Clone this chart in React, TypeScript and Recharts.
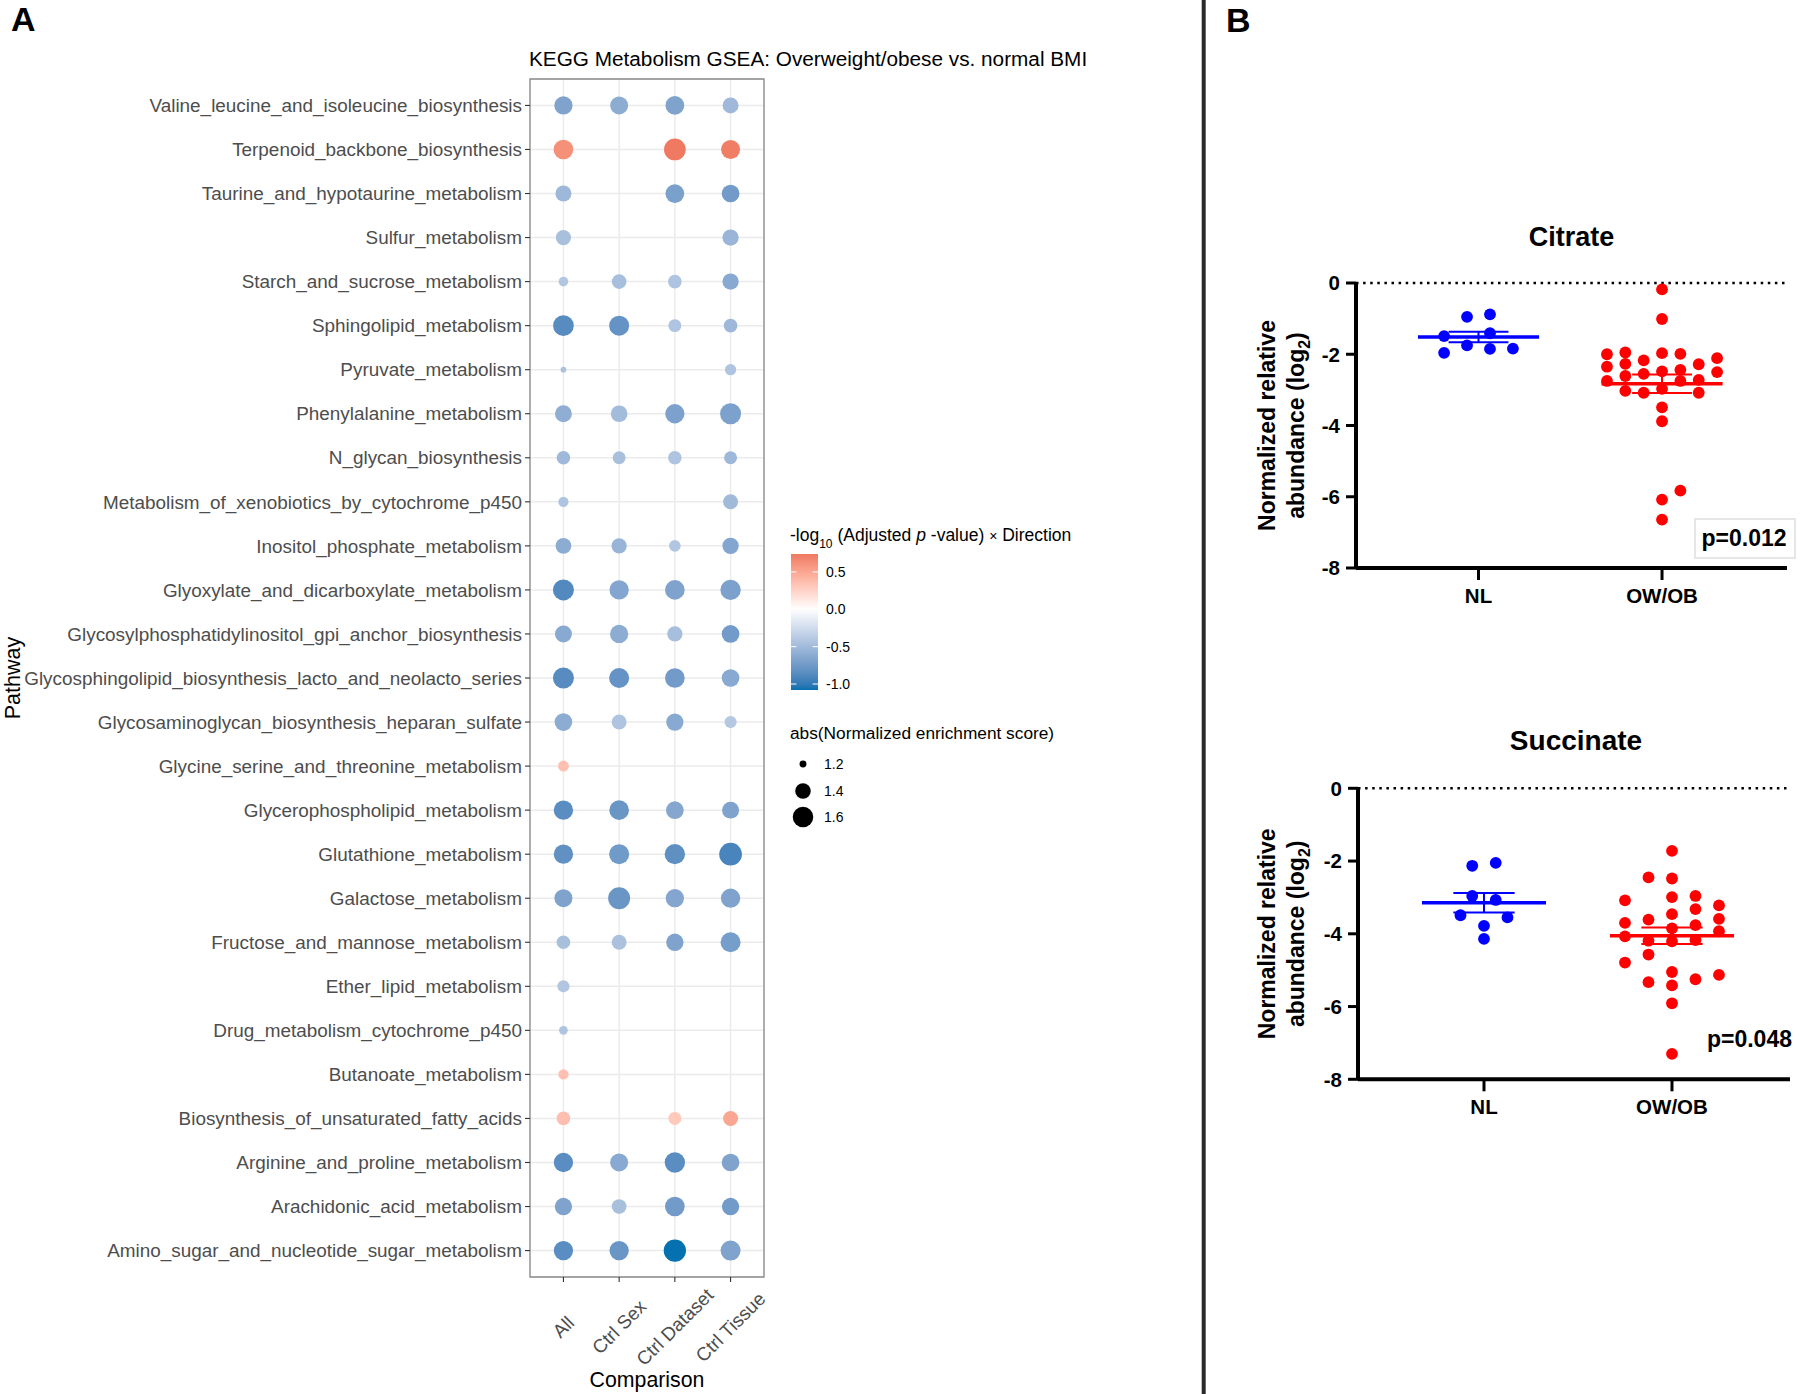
import React from 'react';
import {
  ScatterChart,
  Scatter,
  XAxis,
  YAxis,
  CartesianGrid,
  ReferenceArea,
  ReferenceLine,
} from 'recharts';

const FONT = '"Liberation Sans", Arial, Helvetica, sans-serif';

// ---------------- Panel A data ----------------
const PATHWAYS = [
  'Valine_leucine_and_isoleucine_biosynthesis',
  'Terpenoid_backbone_biosynthesis',
  'Taurine_and_hypotaurine_metabolism',
  'Sulfur_metabolism',
  'Starch_and_sucrose_metabolism',
  'Sphingolipid_metabolism',
  'Pyruvate_metabolism',
  'Phenylalanine_metabolism',
  'N_glycan_biosynthesis',
  'Metabolism_of_xenobiotics_by_cytochrome_p450',
  'Inositol_phosphate_metabolism',
  'Glyoxylate_and_dicarboxylate_metabolism',
  'Glycosylphosphatidylinositol_gpi_anchor_biosynthesis',
  'Glycosphingolipid_biosynthesis_lacto_and_neolacto_series',
  'Glycosaminoglycan_biosynthesis_heparan_sulfate',
  'Glycine_serine_and_threonine_metabolism',
  'Glycerophospholipid_metabolism',
  'Glutathione_metabolism',
  'Galactose_metabolism',
  'Fructose_and_mannose_metabolism',
  'Ether_lipid_metabolism',
  'Drug_metabolism_cytochrome_p450',
  'Butanoate_metabolism',
  'Biosynthesis_of_unsaturated_fatty_acids',
  'Arginine_and_proline_metabolism',
  'Arachidonic_acid_metabolism',
  'Amino_sugar_and_nucleotide_sugar_metabolism',
];

const COMPARISONS = ['All', 'Ctrl Sex', 'Ctrl Dataset', 'Ctrl Tissue'];

// abs(Normalized enrichment score)
const NES_ALL = [1.50, 1.56, 1.415, 1.39, 1.244, 1.607, 1.187, 1.45, 1.34, 1.256, 1.405, 1.62, 1.45, 1.62, 1.478, 1.27, 1.544, 1.544, 1.49, 1.34, 1.30, 1.226, 1.256, 1.34, 1.544, 1.463, 1.544];
const NES_SEX = [1.49, null, null, null, 1.372, 1.575, null, 1.44, 1.32, null, 1.39, 1.544, 1.50, 1.575, 1.38, null, 1.56, 1.575, 1.67, 1.38, null, null, null, null, 1.49, 1.372, 1.544];
const NES_DATASET = [1.52, 1.655, 1.52, null, 1.34, 1.32, null, 1.544, 1.34, null, 1.288, 1.56, 1.39, 1.56, 1.463, null, 1.478, 1.59, 1.50, 1.463, null, null, null, 1.32, 1.59, 1.56, 1.685];
const NES_TISSUE = [1.415, 1.53, 1.478, 1.426, 1.426, 1.34, 1.278, 1.62, 1.32, 1.38, 1.426, 1.59, 1.478, 1.478, 1.30, null, 1.45, 1.706, 1.544, 1.575, null, null, null, 1.38, 1.478, 1.463, 1.575];

// -log10(adjusted p) x direction
const SIG_ALL = [-0.68, 0.62, -0.52, -0.46, -0.41, -0.86, -0.45, -0.59, -0.51, -0.43, -0.61, -0.88, -0.63, -0.86, -0.61, 0.35, -0.85, -0.82, -0.68, -0.46, -0.41, -0.43, 0.35, 0.36, -0.85, -0.68, -0.85];
const SIG_SEX = [-0.61, null, null, null, -0.47, -0.80, null, -0.49, -0.46, null, -0.55, -0.66, -0.61, -0.80, -0.43, null, -0.78, -0.75, -0.78, -0.45, null, null, null, null, -0.63, -0.46, -0.78];
const SIG_DATASET = [-0.68, 0.74, -0.70, null, -0.43, -0.43, null, -0.69, -0.43, null, -0.41, -0.68, -0.47, -0.74, -0.63, null, -0.65, -0.83, -0.66, -0.68, null, null, null, 0.30, -0.85, -0.74, -1.08];
const SIG_TISSUE = [-0.51, 0.72, -0.74, -0.54, -0.63, -0.52, -0.43, -0.69, -0.52, -0.50, -0.66, -0.69, -0.74, -0.63, -0.40, null, -0.68, -0.92, -0.68, -0.72, null, null, null, 0.50, -0.68, -0.74, -0.68];

const COLOR_TICKS = [0.5, 0.0, -0.5, -1.0];
const SIZE_TICKS = [1.2, 1.4, 1.6];

// ---------------- Panel B data ----------------
const GROUPS = ['NL', 'OW/OB'];
const CITRATE_NL = [-0.95, -0.88, -1.49, -1.41, -1.75, -1.96, -1.85, -1.84];
const CITRATE_NL_SWARM = [-0.0625, 0.0625, -0.1875, 0.0625, -0.0625, -0.1875, 0.0625, 0.1875];
const CITRATE_OB = [-0.18, -1.01, -2.00, -1.95, -2.17, -1.97, -1.99, -2.11, -2.35, -2.27, -2.28, -2.44, -2.48, -2.55, -2.50, -2.61, -2.75, -2.75, -2.72, -2.97, -3.03, -3.08, -3.08, -3.49, -3.88, -5.83, -6.08, -6.64];
const CITRATE_OB_SWARM = [0, 0, -0.3, -0.2, -0.1, 0, 0.1, 0.3, -0.3, -0.2, 0.2, 0.1, 0, -0.1, 0.3, -0.2, -0.3, 0.1, 0.2, 0, -0.2, -0.1, 0.2, 0, 0, 0.1, 0, 0];
const SUCCINATE_NL = [-2.13, -2.05, -2.96, -3.07, -3.49, -3.55, -3.78, -4.14];
const SUCCINATE_NL_SWARM = [-0.0625, 0.0625, -0.0625, 0.0625, -0.125, 0.125, 0, 0];
const SUCCINATE_OB = [-1.72, -2.45, -2.48, -3.08, -2.99, -2.96, -3.22, -3.32, -3.46, -3.61, -3.59, -3.70, -3.76, -3.85, -3.93, -4.07, -4.19, -4.21, -4.17, -4.57, -4.79, -5.05, -5.13, -5.25, -5.33, -5.42, -5.91, -7.30];
const SUCCINATE_OB_SWARM = [0, -0.125, 0, -0.25, 0, 0.125, 0.25, 0.125, 0, -0.125, 0.25, -0.25, 0.125, 0, 0.25, -0.25, -0.125, 0, 0.125, -0.125, -0.25, 0, 0.25, 0.125, -0.125, 0, 0, 0];
const Y_TICKS_B = [-8, -6, -4, -2, 0];

// ---------------- colour helpers (Lab interpolation like ggplot) ----------------
const WHITE_PT = [0.95047, 1.0, 1.08883];
const s2l = (c: number) => {
  const v = c / 255;
  return v <= 0.04045 ? v / 12.92 : Math.pow((v + 0.055) / 1.055, 2.4);
};
const l2s = (c: number) => {
  const v = c <= 0.0031308 ? 12.92 * c : 1.055 * Math.pow(c, 1 / 2.4) - 0.055;
  return Math.round(Math.max(0, Math.min(1, v)) * 255);
};
function toLab(hex: string) {
  const r = s2l(parseInt(hex.slice(1, 3), 16));
  const g = s2l(parseInt(hex.slice(3, 5), 16));
  const b = s2l(parseInt(hex.slice(5, 7), 16));
  const X = 0.4124564 * r + 0.3575761 * g + 0.1804375 * b;
  const Y = 0.2126729 * r + 0.7151522 * g + 0.072175 * b;
  const Z = 0.0193339 * r + 0.119192 * g + 0.9503041 * b;
  const f = (t: number) => (t > 216 / 24389 ? Math.cbrt(t) : ((24389 / 27) * t + 16) / 116);
  const fx = f(X / WHITE_PT[0]);
  const fy = f(Y / WHITE_PT[1]);
  const fz = f(Z / WHITE_PT[2]);
  return [116 * fy - 16, 500 * (fx - fy), 200 * (fy - fz)];
}
function fromLab(lab: number[]) {
  const [L, a, bb] = lab;
  const fy = (L + 16) / 116;
  const fx = fy + a / 500;
  const fz = fy - bb / 200;
  const finv = (t: number) => (t * t * t > 216 / 24389 ? t * t * t : (116 * t - 16) / (24389 / 27));
  const X = finv(fx) * WHITE_PT[0];
  const Y = finv(fy) * WHITE_PT[1];
  const Z = finv(fz) * WHITE_PT[2];
  const r = 3.2404542 * X - 1.5371385 * Y - 0.4985314 * Z;
  const g = -0.969266 * X + 1.8760108 * Y + 0.041556 * Z;
  const b = 0.0556434 * X - 0.2040259 * Y + 1.0572252 * Z;
  const h = (n: number) => l2s(n).toString(16).padStart(2, '0');
  return '#' + h(r) + h(g) + h(b);
}
const LOW = toLab('#0571B0');
const MID = toLab('#FFFFFF');
const HIGH = toLab('#D7301F');

const ALL_SIG = [...SIG_ALL, ...SIG_SEX, ...SIG_DATASET, ...SIG_TISSUE].filter((v) => v != null) as number[];
const SIG_MIN = Math.min(...ALL_SIG);
const SIG_MAX = Math.max(...ALL_SIG);
const SIG_LIM = Math.max(Math.abs(SIG_MIN), Math.abs(SIG_MAX));

function colorFor(v: number) {
  const t = Math.max(-1, Math.min(1, v / SIG_LIM));
  const end = t < 0 ? LOW : HIGH;
  const k = Math.abs(t);
  return fromLab([0, 1, 2].map((i) => MID[i] + (end[i] - MID[i]) * k));
}
function radiusFor(nes: number) {
  return 1 + 10 * Math.sqrt(Math.max(0, nes - 1.17) / 0.5);
}

const NES_BY_COMP = [NES_ALL, NES_SEX, NES_DATASET, NES_TISSUE];
const SIG_BY_COMP = [SIG_ALL, SIG_SEX, SIG_DATASET, SIG_TISSUE];
const bubbleSeries = COMPARISONS.map((comp, ci) =>
  PATHWAYS.map((p, pi) => ({
    x: ci,
    y: pi,
    nes: NES_BY_COMP[ci][pi],
    sig: SIG_BY_COMP[ci][pi],
    pathway: p,
    comparison: comp,
  })).filter((d) => d.nes != null && d.sig != null)
);

const Bubble = (props: any) => {
  const { cx, cy, payload } = props;
  if (cx == null || cy == null) return null;
  return <circle cx={cx} cy={cy} r={radiusFor(payload.nes)} fill={colorFor(payload.sig)} />;
};

const CompTick = (props: any) => {
  const { x, y, payload } = props;
  const cy = y + 43;
  return (
    <text
      x={x}
      y={cy}
      textAnchor="middle"
      dominantBaseline="central"
      transform={`rotate(-45 ${x} ${cy})`}
      fill="#4D4D4D"
      fontSize={18.9}
      fontFamily={FONT}
    >
      {COMPARISONS[payload.value]}
    </text>
  );
};

function PanelA() {
  const n = PATHWAYS.length;
  return (
    <div style={{ position: 'absolute', left: 0, top: 0 }}>
      <ScatterChart width={1195} height={1394} margin={{ top: 79, right: 431, bottom: 17, left: 5 }}>
        <CartesianGrid stroke="#EBEBEB" strokeWidth={1.5} />
        <XAxis
          type="number"
          dataKey="x"
          domain={[-0.6, COMPARISONS.length - 0.4]}
          allowDataOverflow
          ticks={COMPARISONS.map((_, i) => i)}
          interval={0}
          height={100}
          axisLine={false}
          tickLine={{ stroke: '#333333', strokeWidth: 1.1 }}
          tickSize={5}
          tickMargin={2}
          tick={<CompTick />}
        />
        <YAxis
          type="number"
          dataKey="y"
          domain={[-0.6, n - 0.4]}
          allowDataOverflow
          reversed
          ticks={PATHWAYS.map((_, i) => i)}
          interval={0}
          width={525}
          axisLine={false}
          tickLine={{ stroke: '#333333', strokeWidth: 1.1 }}
          tickSize={5}
          tickMargin={3}
          tickFormatter={(v: number) => PATHWAYS[v]}
          tick={{ fill: '#4D4D4D', fontSize: 18.9, fontFamily: FONT }}
        />
        <ReferenceArea
          x1={-0.6}
          x2={COMPARISONS.length - 0.4}
          y1={-0.6}
          y2={n - 0.4}
          fill="none"
          fillOpacity={0}
          stroke="#8A8A8A"
          strokeWidth={1.3}
        />
        {bubbleSeries.map((data, i) => (
          <Scatter key={COMPARISONS[i]} name={COMPARISONS[i]} data={data} shape={Bubble} isAnimationActive={false} />
        ))}
      </ScatterChart>
    </div>
  );
}

function meanSem(vals: number[]) {
  const m = vals.reduce((a, b) => a + b, 0) / vals.length;
  const sd = Math.sqrt(vals.reduce((a, b) => a + (b - m) * (b - m), 0) / (vals.length - 1));
  return { mean: m, sem: sd / Math.sqrt(vals.length) };
}

const Dot = (props: any) => {
  const { cx, cy, fill } = props;
  if (cx == null || cy == null) return null;
  return <circle cx={cx} cy={cy} r={5.9} fill={fill} />;
};

const MEAN_HALF = 0.33;
const CAP_HALF = 0.163;

function statLines(center: number, vals: number[], color: string, key: string) {
  const { mean, sem } = meanSem(vals);
  return [
    <ReferenceLine
      key={key + 'm'}
      segment={[{ x: center - MEAN_HALF, y: mean }, { x: center + MEAN_HALF, y: mean }]}
      stroke={color}
      strokeWidth={3.5}
    />,
    <ReferenceLine
      key={key + 'u'}
      segment={[{ x: center - CAP_HALF, y: mean + sem }, { x: center + CAP_HALF, y: mean + sem }]}
      stroke={color}
      strokeWidth={2}
    />,
    <ReferenceLine
      key={key + 'l'}
      segment={[{ x: center - CAP_HALF, y: mean - sem }, { x: center + CAP_HALF, y: mean - sem }]}
      stroke={color}
      strokeWidth={2}
    />,
    <ReferenceLine
      key={key + 'v'}
      segment={[{ x: center, y: mean - sem }, { x: center, y: mean + sem }]}
      stroke={color}
      strokeWidth={2}
    />,
  ];
}

const tickStyleB = { fill: '#000000', fontSize: 20.5, fontWeight: 700, fontFamily: FONT };

function DotPlot(props: {
  left: number;
  top: number;
  width: number;
  height: number;
  margin: { top: number; right: number; bottom: number; left: number };
  xDomain: [number, number];
  nl: number[];
  nlSwarm: number[];
  ob: number[];
  obSwarm: number[];
}) {
  const { left, top, width, height, margin, xDomain, nl, nlSwarm, ob, obSwarm } = props;
  const nlData = nl.map((v, i) => ({ x: 1 + nlSwarm[i], y: v }));
  const obData = ob.map((v, i) => ({ x: 2 + obSwarm[i], y: v }));
  return (
    <div style={{ position: 'absolute', left, top }}>
      <ScatterChart width={width} height={height} margin={margin}>
        <XAxis
          type="number"
          dataKey="x"
          domain={xDomain}
          allowDataOverflow
          ticks={[1, 2]}
          interval={0}
          tickFormatter={(v: number) => GROUPS[v - 1]}
          height={40}
          axisLine={{ stroke: '#000', strokeWidth: 4 }}
          tickLine={{ stroke: '#000', strokeWidth: 3 }}
          tickSize={12}
          tickMargin={8}
          tick={tickStyleB}
        />
        <YAxis
          type="number"
          dataKey="y"
          domain={[-8, 0]}
          allowDataOverflow
          ticks={Y_TICKS_B}
          interval={0}
          width={100}
          axisLine={{ stroke: '#000', strokeWidth: 4 }}
          tickLine={{ stroke: '#000', strokeWidth: 3 }}
          tickSize={10}
          tickMargin={6}
          tick={tickStyleB}
        />
        <ReferenceLine y={0} stroke="#000" strokeWidth={2.5} strokeDasharray="2.5 4.6" />
        <Scatter name="NL" data={nlData} fill="#0000FF" shape={Dot} isAnimationActive={false} />
        <Scatter name="OW/OB" data={obData} fill="#FF0000" shape={Dot} isAnimationActive={false} />
        {statLines(1, nl, '#0000FF', 'nl')}
        {statLines(2, ob, '#FF0000', 'ob')}
      </ScatterChart>
    </div>
  );
}

function YLabelB({ cy }: { cy: number }) {
  const x1 = 1267;
  const x2 = 1296;
  const common = {
    textAnchor: 'middle' as const,
    dominantBaseline: 'central' as const,
    fontSize: 23,
    fontWeight: 700,
    fontFamily: FONT,
    fill: '#000',
  };
  return (
    <g>
      <text x={x1} y={cy} transform={`rotate(-90 ${x1} ${cy})`} {...common}>
        Normalized relative
      </text>
      <text x={x2} y={cy} transform={`rotate(-90 ${x2} ${cy})`} {...common}>
        abundance (log<tspan baselineShift="sub" fontSize={16}>2</tspan>)
      </text>
    </g>
  );
}

function Overlay() {
  const cbTop = 554;
  const cbBottom = 690;
  const cbLeft = 791;
  const cbW = 27;
  const yFor = (v: number) => cbTop + ((SIG_MAX - v) / (SIG_MAX - SIG_MIN)) * (cbBottom - cbTop);
  const stops = Array.from({ length: 41 }, (_, i) => {
    const v = SIG_MAX - ((SIG_MAX - SIG_MIN) * i) / 40;
    return <stop key={i} offset={`${(i / 40) * 100}%`} stopColor={colorFor(v)} />;
  });
  const sizeY = [764, 791, 817];
  return (
    <svg
      width={1800}
      height={1394}
      style={{ position: 'absolute', left: 0, top: 0, pointerEvents: 'none' }}
      fontFamily={FONT}
    >
      <defs>
        <linearGradient id="cbar" x1="0" y1="0" x2="0" y2="1">
          {stops}
        </linearGradient>
      </defs>
      {/* panel letters and separator */}
      <text x={11} y={31} fontSize={34} fontWeight={700}>A</text>
      <text x={1226} y={32} fontSize={34} fontWeight={700}>B</text>
      <rect x={1201.7} y={0} width={4} height={1394} fill="#2B2B2B" />

      {/* Panel A texts */}
      <text x={529} y={66} fontSize={20.75} fill="#000">
        KEGG Metabolism GSEA: Overweight/obese vs. normal BMI
      </text>
      <text
        x={12.5}
        y={678}
        fontSize={21.5}
        textAnchor="middle"
        dominantBaseline="central"
        transform="rotate(-90 12.5 678)"
      >
        Pathway
      </text>
      <text x={647} y={1387} fontSize={21.3} textAnchor="middle">
        Comparison
      </text>

      {/* colour legend */}
      <text x={790} y={541} fontSize={17.5}>
        -log<tspan baselineShift="sub" fontSize={12}>10</tspan>
        <tspan baselineShift="0"> (Adjusted </tspan>
        <tspan fontStyle="italic">p</tspan>
        <tspan> -value) </tspan>
        <tspan fontSize={14}>×</tspan>
        <tspan> Direction</tspan>
      </text>
      <rect x={cbLeft} y={cbTop} width={cbW} height={cbBottom - cbTop} fill="url(#cbar)" />
      {COLOR_TICKS.map((v) => (
        <g key={v}>
          <line x1={cbLeft} x2={cbLeft + 5.4} y1={yFor(v)} y2={yFor(v)} stroke="#FFFFFF" strokeWidth={1} />
          <line x1={cbLeft + cbW - 5.4} x2={cbLeft + cbW} y1={yFor(v)} y2={yFor(v)} stroke="#FFFFFF" strokeWidth={1} />
          <text x={826} y={yFor(v)} fontSize={14} dominantBaseline="central" fill="#000">
            {v.toFixed(1)}
          </text>
        </g>
      ))}

      {/* size legend */}
      <text x={790} y={739} fontSize={17.3}>
        abs(Normalized enrichment score)
      </text>
      {SIZE_TICKS.map((s, i) => (
        <g key={s}>
          <circle cx={803} cy={sizeY[i]} r={radiusFor(s)} fill="#000" />
          <text x={824} y={sizeY[i]} fontSize={14} dominantBaseline="central">
            {s.toFixed(1)}
          </text>
        </g>
      ))}

      {/* Panel B texts */}
      <text x={1571.5} y={246} fontSize={27} fontWeight={700} textAnchor="middle">Citrate</text>
      <text x={1576} y={750} fontSize={28} fontWeight={700} textAnchor="middle">Succinate</text>
      <YLabelB cy={425.5} />
      <YLabelB cy={933.8} />
      <rect x={1695} y={519} width={100} height={39} fill="none" stroke="#E6E6E6" strokeWidth={2} />
      <text x={1744} y={546} fontSize={23} fontWeight={700} textAnchor="middle">p=0.012</text>
      <text x={1792} y={1047} fontSize={23} fontWeight={700} textAnchor="end">p=0.048</text>
    </svg>
  );
}

export default function App() {
  return (
    <div
      style={{
        position: 'absolute',
        left: 0,
        top: 0,
        width: 1800,
        height: 1394,
        background: '#FFFFFF',
        overflow: 'hidden',
        fontFamily: FONT,
      }}
    >
      <PanelA />
      <DotPlot
        left={1210}
        top={180}
        width={590}
        height={440}
        margin={{ top: 103, right: 13, bottom: 12, left: 46 }}
        xDomain={[0.3324, 2.681]}
        nl={CITRATE_NL}
        nlSwarm={CITRATE_NL_SWARM}
        ob={CITRATE_OB}
        obSwarm={CITRATE_OB_SWARM}
      />
      <DotPlot
        left={1210}
        top={680}
        width={590}
        height={460}
        margin={{ top: 108.3, right: 10, bottom: 20.7, left: 48 }}
        xDomain={[0.3298, 2.6277]}
        nl={SUCCINATE_NL}
        nlSwarm={SUCCINATE_NL_SWARM}
        ob={SUCCINATE_OB}
        obSwarm={SUCCINATE_OB_SWARM}
      />
      <Overlay />
    </div>
  );
}
